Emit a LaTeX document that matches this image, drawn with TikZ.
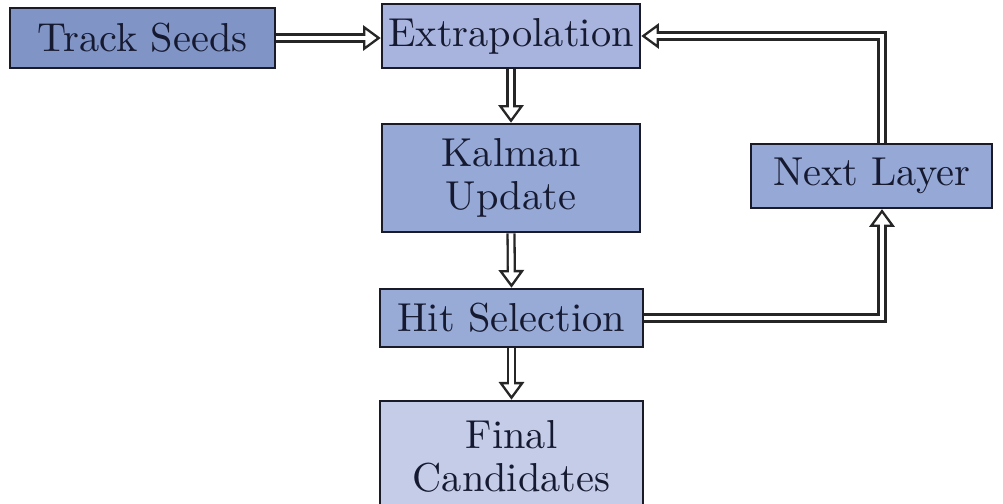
\documentclass[tikz,border=0pt]{standalone}
\usetikzlibrary{arrows.meta}
\definecolor{boxline}{RGB}{25,28,40}
\definecolor{textc}{RGB}{22,26,48}
\definecolor{seedsC}{RGB}{128,148,198}
\definecolor{extrapC}{RGB}{168,180,222}
\definecolor{kalmanC}{RGB}{150,168,214}
\definecolor{nextC}{RGB}{150,168,214}
\definecolor{hitC}{RGB}{152,170,214}
\definecolor{finalC}{RGB}{196,204,232}
\newcommand\dblarrow[1]{\draw[arrout] #1; \draw[arrin] #1;}
\begin{document}
\begin{tikzpicture}[x=0.26pt,y=-0.26pt,
  box/.style={draw=boxline, line width=0.65pt, inner sep=0pt, align=center, text=textc, font=\fontsize{10.5}{11}\selectfont},
  arrout/.style={draw=black!85, line width=2.4pt, -{Triangle[open, length=4.6pt, width=6.6pt, line width=0.6pt]}},
  arrin/.style={draw=white, line width=1.2pt, shorten >=3.8pt},
]
\useasboundingbox (0,0) rectangle (1003,503);
\node[box, fill=seedsC, minimum width=68.9pt, minimum height=15.6pt] (seeds) at (142.5,38) {Track Seeds};
\node[box, fill=extrapC, minimum width=67.1pt, minimum height=16.6pt] (extrap) at (511,36) {Extrapolation};
\node[box, fill=kalmanC, minimum width=67.1pt, minimum height=28.1pt] (kalman) at (511,178) {Kalman\\Update};
\node[box, fill=hitC, minimum width=68.4pt, minimum height=15.1pt] (hit) at (511.5,318) {Hit Selection};
\node[box, fill=finalC, minimum width=68.4pt, minimum height=28.9pt] (final) at (511.5,456.5) {Final\\Candidates};
\node[box, fill=nextC, minimum width=62.7pt, minimum height=16.6pt] (nextl) at (871.5,176) {Next Layer};
\coordinate (loop) at (882,0);
\dblarrow{(seeds.east) -- (seeds.east -| extrap.west)}
\dblarrow{(extrap.south) -- (kalman.north)}
\dblarrow{(kalman.south) -- (hit.north)}
\dblarrow{(hit.south) -- (final.north)}
\dblarrow{(hit.east) -| (loop |- nextl.south)}
\dblarrow{(loop |- nextl.north) |- (extrap.east)}
\end{tikzpicture}
\end{document}
